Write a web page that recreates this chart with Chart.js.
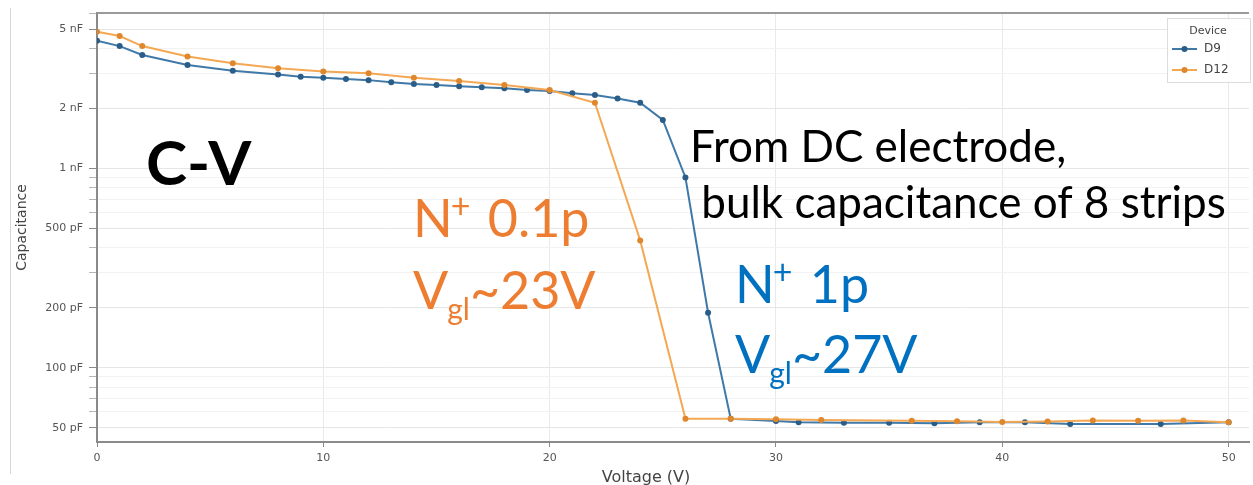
<!DOCTYPE html>
<html>
<head>
<meta charset="utf-8">
<script src="https://cdn.jsdelivr.net/npm/chart.js@4.4.0/dist/chart.umd.min.js"></script>
<style>
  html, body { margin: 0; padding: 0; background: #fff; }
  #wrap { position: relative; width: 1253px; height: 485px; overflow: hidden; }
  #cv { position: absolute; left: 0; top: 0; }
  .edge { position: absolute; left: 10px; top: 8px; height: 466px; border-left: 1px solid #d6d6d6; }
</style>
</head>
<body>
<div id="wrap">
  <div class="edge"></div>
  <canvas id="cv" width="1253" height="485"></canvas>
</div>
<script>
// C-V sweep, capacitance in pF
const d9Voltage = [0, 1, 2, 4, 6, 8, 9, 10, 11, 12, 13, 14, 15, 16, 17, 18, 19, 20, 21, 22, 23, 24, 25, 26, 27, 28,
                   30, 31, 33, 35, 37, 39, 41, 43, 47, 50];
const d9Cap = [4380, 4120, 3720, 3310, 3100, 2970, 2890, 2860, 2820, 2780, 2710, 2660, 2630, 2590, 2560, 2530, 2480, 2450,
               2390, 2340, 2250, 2140, 1755, 902, 189, 55.5,
               54.0, 53.3, 53.0, 53.0, 52.6, 53.2, 53.2, 52.2, 52.2, 53.3];

const d12Voltage = [0, 1, 2, 4, 6, 8, 10, 12, 14, 16, 18, 20, 22, 24, 26, 28, 30, 32, 36, 38, 40, 42, 44, 46, 48, 50];
const d12Cap = [4860, 4630, 4120, 3650, 3380, 3190, 3070, 3010, 2860, 2750, 2630, 2480, 2140, 436, 55.5,
                55.5, 55.1, 54.7, 54.2, 53.9, 53.4, 53.7, 54.4, 54.2, 54.4, 53.3];

const seriesNames = ['D9', 'D12'];
const legendTitle = 'Device';

const voltageTicks = [0, 10, 20, 30, 40, 50];
const capTickValues = [50, 100, 200, 500, 1000, 2000, 5000];
const capTickLabels = ['50 pF', '100 pF', '200 pF', '500 pF', '1 nF', '2 nF', '5 nF'];

const xTitle = 'Voltage (V)';
const yTitle = 'Capacitance';

const C_BLUE = '#4079a8', C_BLUE_PT = '#2a5d88';
const C_ORANGE = '#f4a854', C_ORANGE_PT = '#df872c';

// minor grid: every 1..9 step of each decade
const yMin = 42.4, yMax = 6040;
const capGrid = [];
for (const dec of [10, 100, 1000]) {
  for (let k = 1; k <= 9; k++) {
    const v = k * dec;
    if (v >= yMin && v <= yMax) capGrid.push(v);
  }
}
const isMajor = v => capTickValues.includes(v);

const toPoints = (xs, ys) => xs.map((x, i) => ({ x: x, y: ys[i] }));

// overlay text written on top of the plot
function drawRuns(ctx, x, y, runs, color) {
  ctx.fillStyle = color;
  ctx.textAlign = 'left';
  ctx.textBaseline = 'alphabetic';
  for (const r of runs) {
    ctx.font = r.font;
    ctx.fillText(r.text, x, y + (r.dy || 0));
    x += ctx.measureText(r.text).width + (r.gap || 0);
  }
}

const BIG = '52px Lato', SUP = '34px Lato', SUB = '30px Lato', MID = '44px Lato';

const notes = [
  { x: 146, y: 185, color: '#000', runs: [{ text: 'C-V', font: 'bold 62px Lato' }] },
  { x: 690, y: 162, color: '#000', runs: [{ text: 'From DC electrode,', font: MID }] },
  { x: 690, y: 218, color: '#000', runs: [{ text: ' bulk capacitance of 8 strips', font: MID }] },
  { x: 413, y: 237, color: '#ed7d31', runs: [{ text: 'N', font: BIG, gap: -2 }, { text: '+', font: SUP, dy: -19, gap: 4 }, { text: ' 0.1p', font: BIG }] },
  { x: 413, y: 309, color: '#ed7d31', runs: [{ text: 'V', font: BIG, gap: -1 }, { text: 'gl', font: SUB, dy: 11 }, { text: '~23V', font: BIG }] },
  { x: 735, y: 303, color: '#0070c0', runs: [{ text: 'N', font: BIG, gap: -2 }, { text: '+', font: SUP, dy: -19, gap: 4 }, { text: ' 1p', font: BIG }] },
  { x: 735, y: 373, color: '#0070c0', runs: [{ text: 'V', font: BIG, gap: -1 }, { text: 'gl', font: SUB, dy: 11 }, { text: '~27V', font: BIG }] }
];

const plotDecor = {
  id: 'plotDecor',
  afterDraw(chart) {
    const { ctx, chartArea: a } = chart;
    ctx.save();

    // top frame
    ctx.strokeStyle = '#9a9a9a';
    ctx.lineWidth = 2;
    ctx.beginPath();
    ctx.moveTo(a.left, a.top);
    ctx.lineTo(a.right, a.top);
    ctx.stroke();

    // x axis title
    ctx.fillStyle = '#444';
    ctx.font = '16px "DejaVu Sans"';
    ctx.textAlign = 'center';
    ctx.textBaseline = 'middle';
    ctx.fillText(xTitle, 646, 478);

    // legend box, top right inside the plot
    const lx = 1167, ly = 18, lw = 83, lh = 64;
    ctx.fillStyle = 'rgba(255,255,255,0.9)';
    ctx.fillRect(lx, ly, lw, lh);
    ctx.strokeStyle = '#dcdcdc';
    ctx.lineWidth = 1;
    ctx.strokeRect(lx + 0.5, ly + 0.5, lw, lh);
    ctx.fillStyle = '#444';
    ctx.font = '11px "DejaVu Sans"';
    ctx.textAlign = 'center';
    ctx.fillText(legendTitle, lx + 41, ly + 13);
    chart.data.datasets.forEach((ds, i) => {
      const yy = ly + 31 + i * 21;
      ctx.strokeStyle = ds.borderColor;
      ctx.lineWidth = 2;
      ctx.beginPath();
      ctx.moveTo(lx + 5, yy);
      ctx.lineTo(lx + 30, yy);
      ctx.stroke();
      ctx.fillStyle = ds.pointBackgroundColor;
      ctx.beginPath();
      ctx.arc(lx + 17.5, yy, 3, 0, Math.PI * 2);
      ctx.fill();
      ctx.fillStyle = '#444';
      ctx.textAlign = 'left';
      ctx.font = '12px "DejaVu Sans"';
      ctx.fillText(ds.label, lx + 37, yy);
    });

    notes.forEach(n => drawRuns(ctx, n.x, n.y, n.runs, n.color));
    ctx.restore();
  }
};

function build() {
  new Chart(document.getElementById('cv'), {
    type: 'line',
    data: {
      datasets: [
        {
          label: seriesNames[0],
          data: toPoints(d9Voltage, d9Cap),
          borderColor: C_BLUE,
          backgroundColor: C_BLUE_PT,
          pointBackgroundColor: C_BLUE_PT,
          pointBorderWidth: 0,
          pointRadius: 3,
          borderWidth: 2,
          order: 1
        },
        {
          label: seriesNames[1],
          data: toPoints(d12Voltage, d12Cap),
          borderColor: C_ORANGE,
          backgroundColor: C_ORANGE_PT,
          pointBackgroundColor: C_ORANGE_PT,
          pointBorderWidth: 0,
          pointRadius: 3,
          borderWidth: 2,
          order: 0
        }
      ]
    },
    options: {
      responsive: false,
      animation: false,
      devicePixelRatio: 1,
      layout: { padding: { top: 13, right: 0, bottom: 0, left: 0 } },
      plugins: { legend: { display: false }, tooltip: { enabled: false } },
      elements: { line: { tension: 0 } },
      scales: {
        x: {
          type: 'linear',
          min: 0,
          max: 50.9,
          afterBuildTicks: s => { s.ticks = voltageTicks.map(v => ({ value: v })); },
          afterFit: s => { s.height = 43; },
          grid: { color: '#e9e9e9', tickLength: 5, tickColor: '#8a8a8a' },
          border: { display: true, color: '#8a8a8a', width: 2 },
          ticks: { color: '#555', font: { family: 'DejaVu Sans', size: 11 }, padding: 5, maxRotation: 0, autoSkip: false }
        },
        y: {
          type: 'logarithmic',
          min: yMin,
          max: yMax,
          afterBuildTicks: s => { s.ticks = capGrid.map(v => ({ value: v })); },
          afterFit: s => { s.width = 97; },
          grid: {
            color: c => isMajor(c.tick.value) ? '#e6e6e6' : '#f2f2f2',
            tickLength: 8,
            tickColor: c => isMajor(c.tick.value) ? '#8a8a8a' : '#b5b5b5'
          },
          border: { display: true, color: '#8a8a8a', width: 2 },
          ticks: {
            color: '#555',
            font: { family: 'DejaVu Sans', size: 11 },
            padding: 6,
            autoSkip: false,
            callback: v => {
              const i = capTickValues.indexOf(v);
              return i >= 0 ? capTickLabels[i] : '';
            }
          },
          title: {
            display: true,
            text: yTitle,
            color: '#444',
            font: { family: 'DejaVu Sans', size: 14 },
            padding: { top: 14, bottom: 0 }
          }
        }
      }
    },
    plugins: [plotDecor]
  });
}

Promise.all([
  document.fonts.load('bold 62px Lato'),
  document.fonts.load('52px Lato'),
  document.fonts.load('11px "DejaVu Sans"')
]).then(build, build);
</script>
</body>
</html>
